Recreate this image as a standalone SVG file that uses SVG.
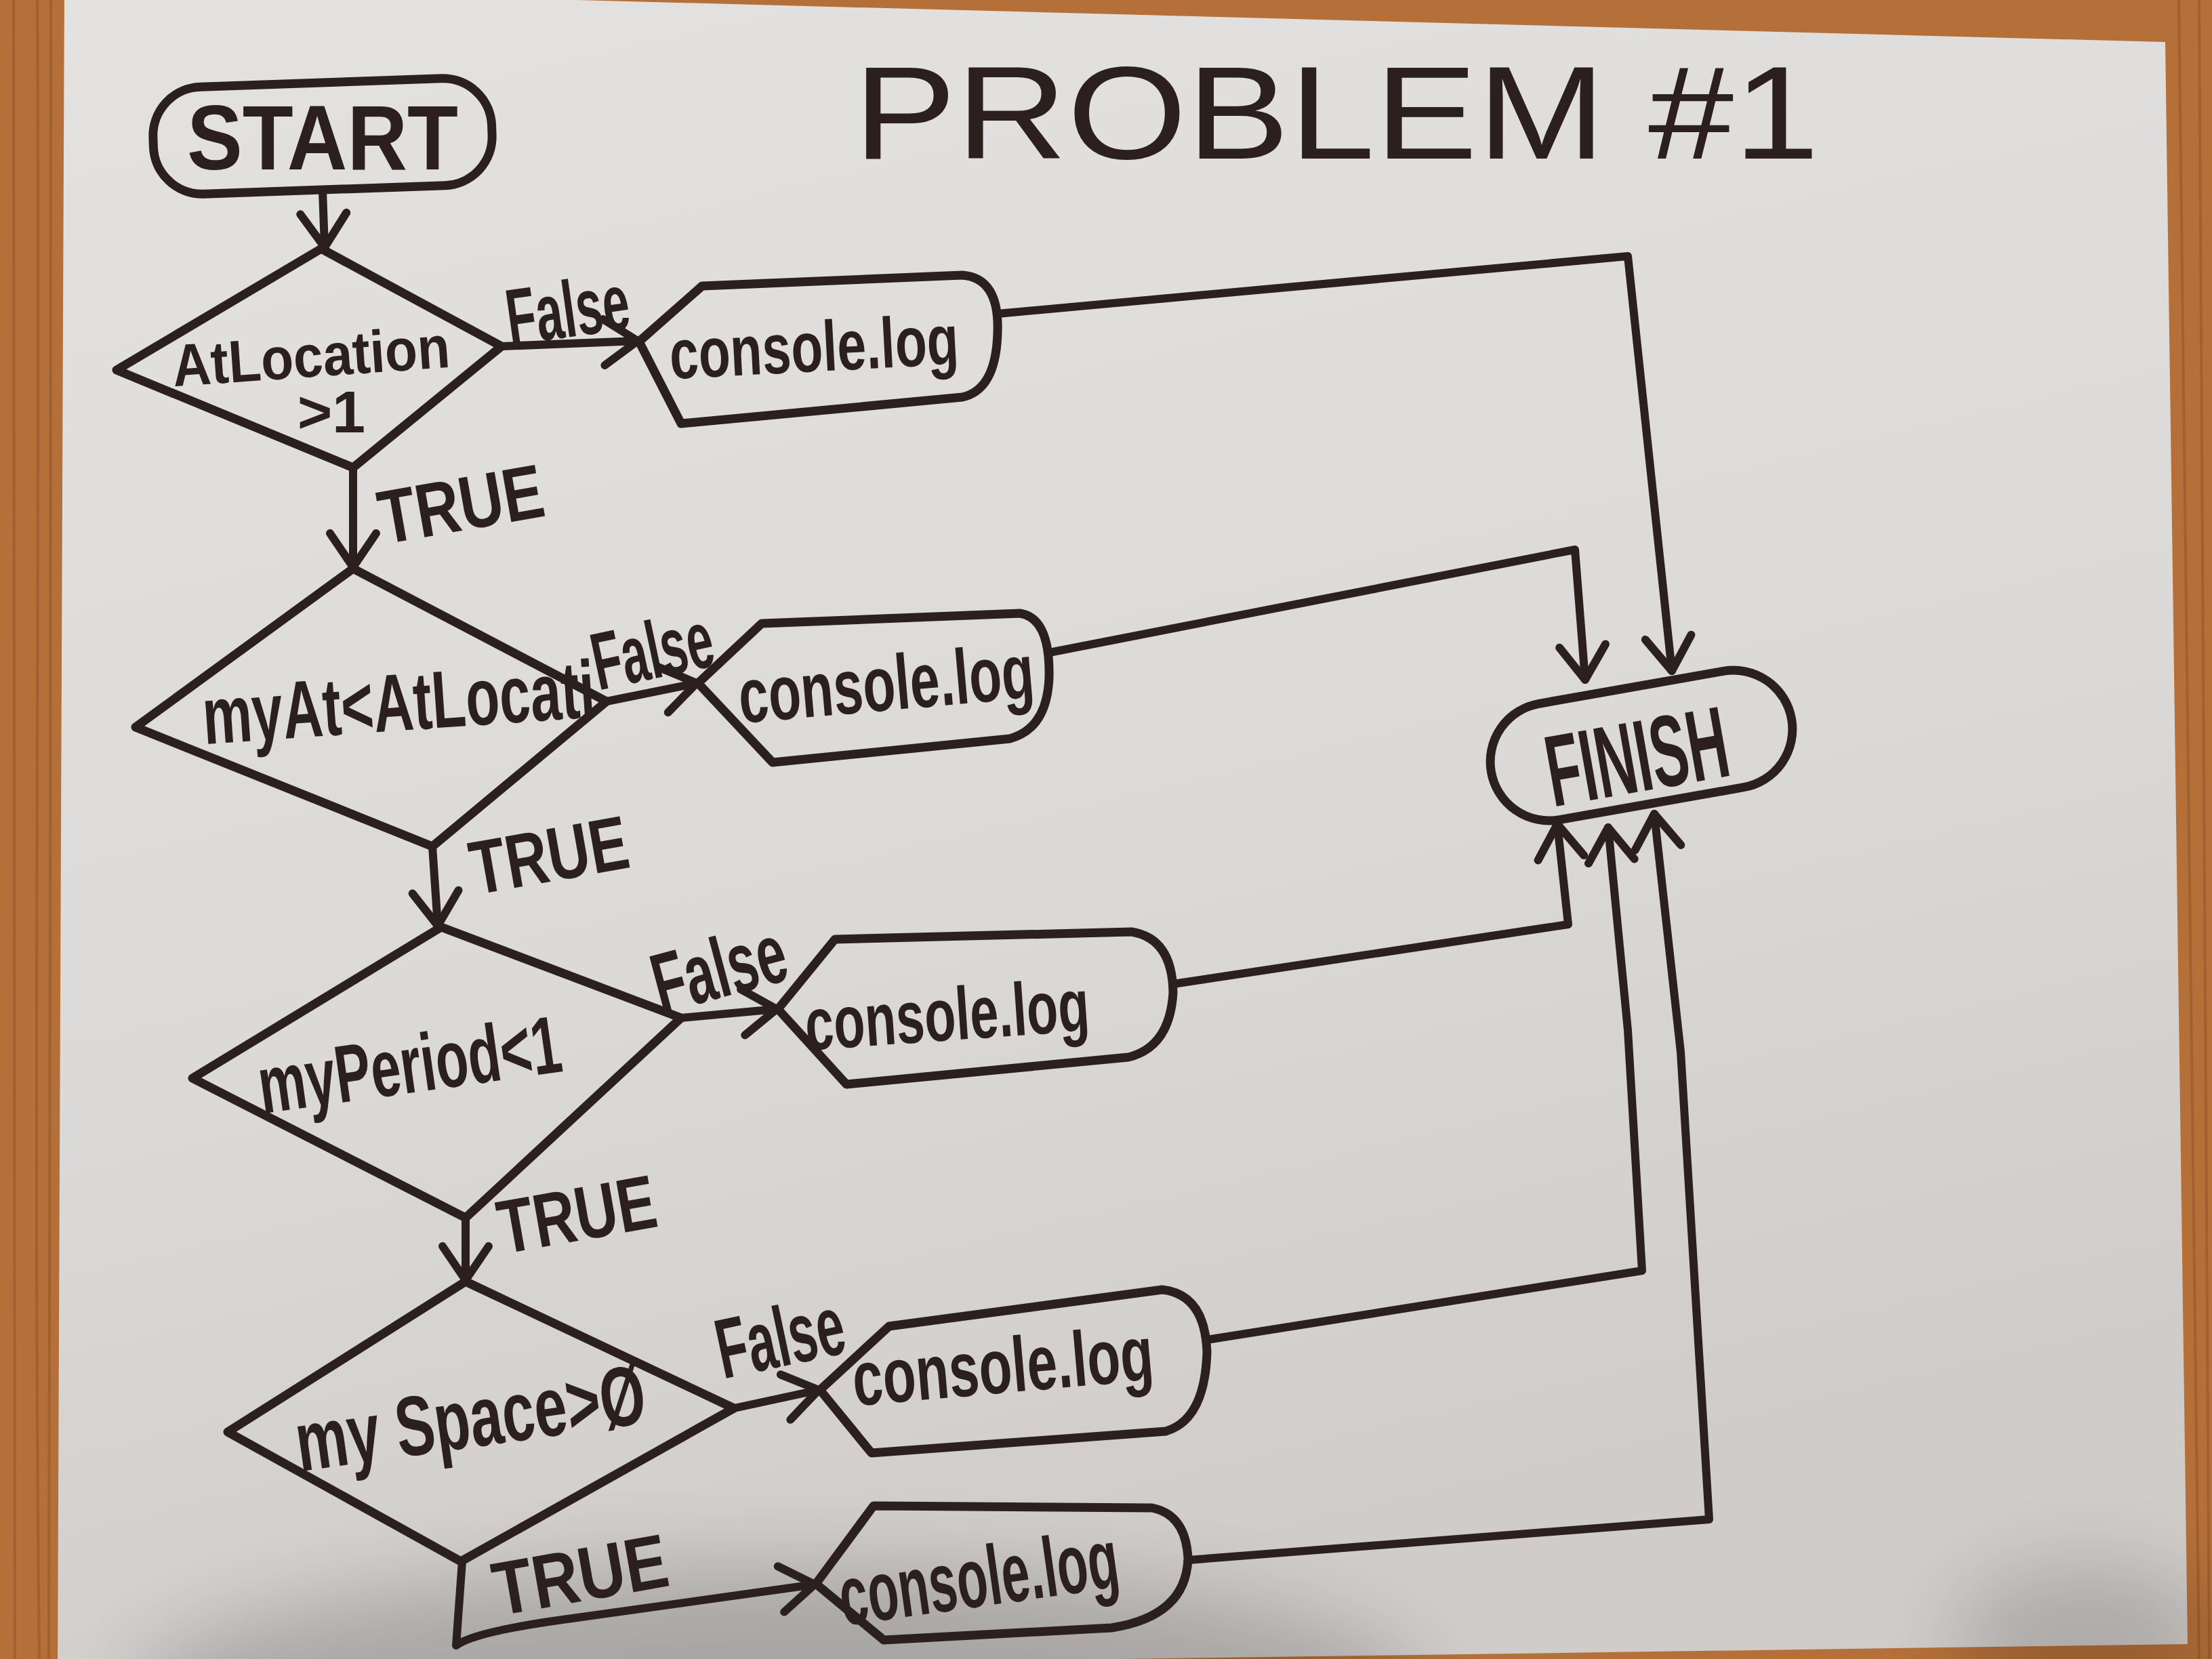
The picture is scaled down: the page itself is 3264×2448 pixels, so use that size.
<svg xmlns="http://www.w3.org/2000/svg" width="3264" height="2448" viewBox="0 0 3264 2448">
<defs>
<style>
.ln{fill:none;stroke:#2b201d;stroke-width:12;stroke-linecap:round;stroke-linejoin:round}
.nd{fill:none;stroke:#2b201d;stroke-width:13;stroke-linecap:round;stroke-linejoin:round}
.t{font-family:"Liberation Sans",Arial,sans-serif;font-weight:700;fill:#2b201d;text-anchor:middle}
.ti{font-family:"Liberation Sans",Arial,sans-serif;font-weight:400;fill:#2b201d;text-anchor:middle}
.grain{stroke:#8c5024;stroke-width:4;opacity:0.5;fill:none}
</style>
<linearGradient id="paper" x1="0" y1="0" x2="0.3" y2="1">
<stop offset="0" stop-color="#e4e2e1"/>
<stop offset="0.6" stop-color="#dcdad8"/>
<stop offset="1" stop-color="#cfccca"/>
</linearGradient>
<filter id="blur" x="-50%" y="-50%" width="200%" height="200%"><feGaussianBlur stdDeviation="60"/></filter>
<marker id="arr" markerUnits="userSpaceOnUse" markerWidth="130" markerHeight="130" viewBox="-65 -65 130 130" refX="0" refY="0" orient="auto">
<path d="M-50,-34 L0,0 L-50,34" fill="none" stroke="#2b201d" stroke-width="12" stroke-linecap="round" stroke-linejoin="round"/>
</marker>
</defs>

<g id="background">
<rect x="0" y="0" width="3264" height="2448" fill="#b5703a"/>
<path class="grain" d="M20,0 C25,600 15,1400 22,2448 M55,0 C60,800 48,1600 58,2448 M75,0 C70,900 80,1500 72,2448"/>
<path class="grain" d="M3215,0 C3225,600 3235,1400 3245,2448 M3245,0 C3250,700 3255,1500 3260,2448"/>
<polygon points="95,-20 3195,62 3228,2426 85,2470" fill="url(#paper)"/>
<ellipse cx="1150" cy="2500" rx="950" ry="190" fill="#000" opacity="0.18" filter="url(#blur)"/>
<ellipse cx="3080" cy="2420" rx="200" ry="110" fill="#000" opacity="0.16" filter="url(#blur)"/>
</g>

<g id="title">
<text class="ti" x="1972" y="234" font-size="195" textLength="1425" lengthAdjust="spacingAndGlyphs">PROBLEM #1</text>
</g>

<g id="connectors">
<path class="ln" d="M476,281 L479,365" marker-end="url(#arr)"/>
<path class="ln" d="M521,690 L521,837" marker-end="url(#arr)"/>
<path class="ln" d="M638,1249 L646,1366" marker-end="url(#arr)"/>
<path class="ln" d="M687,1797 L687,1889" marker-end="url(#arr)"/>
<path class="ln" d="M740,511 L941,503" marker-end="url(#arr)"/>
<path class="ln" d="M895,1035 L1028,1008" marker-end="url(#arr)"/>
<path class="ln" d="M1005,1502 L1146,1489" marker-end="url(#arr)"/>
<path class="ln" d="M1083,2078 L1208,2051" marker-end="url(#arr)"/>
<path class="ln" d="M682,2304 L673,2428 Q700,2408 830,2390 L1202,2338" marker-end="url(#arr)"/>
<path class="ln" d="M1472,463 L2402,378 L2467,990" marker-end="url(#arr)"/>
<path class="ln" d="M1548,963 L2324,811 L2339,1003" marker-end="url(#arr)"/>
<path class="ln" d="M1731,1452 L2314,1364 L2298,1216" marker-end="url(#arr)"/>
<path class="ln" d="M1781,1977 L2423,1875 L2402,1520 L2373,1221" marker-end="url(#arr)"/>
<path class="ln" d="M1753,2302 L2522,2242 L2480,1552 L2441,1201" marker-end="url(#arr)"/>
</g>

<g id="labels">
<text class="t" x="843" y="497" font-size="118" textLength="182" lengthAdjust="spacingAndGlyphs" transform="rotate(-8 843 497)">False</text>
<text class="t" x="687" y="782" font-size="112" textLength="245" lengthAdjust="spacingAndGlyphs" transform="rotate(-10 687 782)">TRUE</text>
<text class="t" x="971" y="1000" font-size="120" textLength="180" lengthAdjust="spacingAndGlyphs" transform="rotate(-12 971 1000)">False</text>
<text class="t" x="817" y="1300" font-size="112" textLength="235" lengthAdjust="spacingAndGlyphs" transform="rotate(-10 817 1300)">TRUE</text>
<text class="t" x="1072" y="1470" font-size="125" textLength="200" lengthAdjust="spacingAndGlyphs" transform="rotate(-15 1072 1470)">False</text>
<text class="t" x="858" y="1830" font-size="112" textLength="235" lengthAdjust="spacingAndGlyphs" transform="rotate(-10 858 1830)">TRUE</text>
<text class="t" x="1160" y="2015" font-size="125" textLength="190" lengthAdjust="spacingAndGlyphs" transform="rotate(-12 1160 2015)">False</text>
<text class="t" x="863" y="2362" font-size="112" textLength="260" lengthAdjust="spacingAndGlyphs" transform="rotate(-10 863 2362)">TRUE</text>
</g>

<g id="start">
<rect class="nd" x="226" y="122" width="500" height="158" rx="72" transform="rotate(-2 476 201)"/>
<text class="t" x="476" y="250" font-size="136" textLength="400" lengthAdjust="spacingAndGlyphs">START</text>
</g>

<g id="decision1">
<polygon class="nd" points="474,367 740,511 521,690 172,546"/>
<text class="t" x="461" y="556" font-size="88" textLength="410" lengthAdjust="spacingAndGlyphs" transform="rotate(-4 461 556)">AtLocation</text>
<text class="t" x="489" y="638" font-size="88" textLength="100" lengthAdjust="spacingAndGlyphs">&gt;1</text>
</g>

<g id="log1">
<path class="nd" d="M943,504 L1036,422 L1420,406 Q1475,410 1472,490 Q1470,575 1420,586 L1005,625 Z"/>
<text class="t" x="1203" y="548" font-size="105" textLength="427" lengthAdjust="spacingAndGlyphs" transform="rotate(-3 1203 548)">console.log</text>
</g>

<g id="decision2">
<polygon class="nd" points="521,839 895,1035 638,1249 200,1073"/>
<text class="t" x="591" y="1078" font-size="120" textLength="580" lengthAdjust="spacingAndGlyphs" transform="rotate(-4 591 1078)">myAt&lt;AtLocati</text>
</g>

<g id="log2">
<path class="nd" d="M1030,1008 L1124,920 L1505,905 Q1550,912 1548,1000 Q1545,1075 1490,1090 L1140,1125 Z"/>
<text class="t" x="1311" y="1048" font-size="115" textLength="437" lengthAdjust="spacingAndGlyphs" transform="rotate(-5 1311 1048)">console.log</text>
</g>

<g id="decision3">
<polygon class="nd" points="651,1368 1005,1502 687,1797 284,1591"/>
<text class="t" x="610" y="1612" font-size="120" textLength="450" lengthAdjust="spacingAndGlyphs" transform="rotate(-8 610 1612)">myPeriod&lt;1</text>
</g>

<g id="log3">
<path class="nd" d="M1148,1489 L1232,1386 L1670,1375 Q1730,1385 1731,1465 Q1726,1545 1665,1560 L1249,1600 Z"/>
<text class="t" x="1400" y="1535" font-size="110" textLength="420" lengthAdjust="spacingAndGlyphs" transform="rotate(-4 1400 1535)">console.log</text>
</g>

<g id="decision4">
<polygon class="nd" points="687,1891 1083,2078 680,2304 336,2113"/>
<text class="t" x="700" y="2135" font-size="125" textLength="520" lengthAdjust="spacingAndGlyphs" transform="rotate(-8 700 2135)">my Space&gt;Ø</text>
</g>

<g id="log4">
<path class="nd" d="M1210,2051 L1312,1957 L1715,1903 Q1778,1910 1781,1995 Q1778,2095 1720,2112 L1286,2144 Z"/>
<text class="t" x="1483" y="2055" font-size="115" textLength="445" lengthAdjust="spacingAndGlyphs" transform="rotate(-5 1483 2055)">console.log</text>
</g>

<g id="log5">
<path class="nd" d="M1204,2337 L1289,2222 L1700,2225 Q1750,2235 1753,2300 Q1750,2385 1640,2402 L1304,2420 Z"/>
<text class="t" x="1450" y="2370" font-size="125" textLength="415" lengthAdjust="spacingAndGlyphs" transform="rotate(-8 1450 2370)">console.log</text>
</g>

<g id="finish">
<rect class="nd" x="2197" y="1013" width="450" height="174" rx="87" transform="rotate(-10 2422 1100)"/>
<text class="t" x="2416" y="1168" font-size="150" textLength="270" lengthAdjust="spacingAndGlyphs" transform="rotate(-10 2416 1120)">FINISH</text>
</g>
</svg>
